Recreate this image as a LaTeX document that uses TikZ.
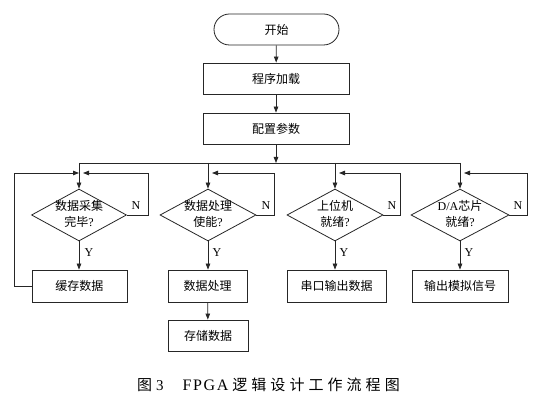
\documentclass[tikz,border=0pt]{standalone}
\usepackage{fontspec}
\setmainfont{Liberation Serif}
\newfontfamily\cjk{Noto Sans CJK SC}
\newfontfamily\capcjk[LetterSpace=27]{Noto Sans CJK SC}
\newfontfamily\caprm[LetterSpace=10]{Liberation Serif}
\usetikzlibrary{arrows.meta,shapes.geometric}
\newcommand\dtext[2]{\raisebox{-6.5pt}{\makebox[0pt]{\smash{\begin{tabular}[c]{@{}c@{}}#1\\#2\end{tabular}}}}}
\begin{document}
\begin{tikzpicture}[x=1pt,y=-1pt,
  ln/.style={draw=black!85,line width=0.8pt},
  arr/.style={ln,-{Triangle[length=6pt,width=4.5pt]}},
  box/.style={draw=black!85,line width=0.8pt,rectangle,minimum height=32pt,inner sep=0pt,
    font=\cjk\fontsize{12}{16}\selectfont},
  dia/.style={draw=black!85,line width=0.8pt,diamond,minimum width=96pt,minimum height=52pt,inner sep=0pt,
    font=\fontsize{12}{16}\selectfont},
  lab/.style={font=\fontsize{12}{14}\selectfont,inner sep=0pt}]
\useasboundingbox[fill=white] (0,0) rectangle (542,403);
% top column
\node[box,rounded corners=15.5pt,minimum width=125pt,minimum height=31pt] (s) at (276.5,29.5) {开始};
\node[box,minimum width=146pt,minimum height=31pt] (p1) at (276,78.5) {程序加载};
\node[box,minimum width=146pt,minimum height=31pt] (p2) at (276,128.5) {配置参数};
% diamonds
\node[dia,minimum width=95pt] (d1) at (79,215) {\dtext{\cjk 数据采集}{\cjk 完毕\rmfamily ?}};
\node[dia] (d2) at (208,215) {\dtext{\cjk 数据处理}{\cjk 使能\rmfamily ?}};
\node[dia] (d3) at (335,215) {\dtext{\cjk 上位机}{\cjk 就绪\rmfamily ?}};
\node[dia,minimum width=98pt] (d4) at (460,215) {\dtext{D/A{\cjk 芯片}}{\cjk 就绪\rmfamily ?}};
% boxes
\node[box,minimum width=95pt] (b1) at (79.5,286) {缓存数据};
\node[box,minimum width=79pt] (b2) at (207.5,286) {数据处理};
\node[box,minimum width=99pt] (b3) at (336.5,286) {串口输出数据};
\node[box,minimum width=96pt] (b4) at (460,286) {输出模拟信号};
\node[box,minimum width=80pt,minimum height=31pt] (b5) at (208,335.5) {存储数据};
% coordinates
\coordinate (busL) at (79,163);
\coordinate (busR) at (460,163);
\coordinate (n1) at (148,173);
\coordinate (n2) at (274,173);
\coordinate (n3) at (400,173);
\coordinate (n4) at (527,173);
\coordinate (l1) at (14,173);
% connectors
\draw[arr] (s) -- (p1);
\draw[arr] (p1) -- (p2);
\draw[arr] (p2.south) -- (p2.south |- busL);
\draw[ln] (busL) -- (busR);
\foreach \d in {d1,d2,d3,d4}{\draw[arr] (\d.north |- busL) -- (\d.north);}
\draw[arr] (d1.south) -- (d1.south |- b1.north);
\draw[arr] (d2.south) -- (d2.south |- b2.north);
\draw[arr] (d3.south) -- (d3.south |- b3.north);
\draw[arr] (d4.south) -- (d4.south |- b4.north);
\draw[arr] (b2) -- (b5);
\draw[arr,shorten >=4pt] (d1.east) -| (n1) -- (n1 -| d1.north);
\draw[arr,shorten >=4pt] (d2.east) -| (n2) -- (n2 -| d2.north);
\draw[arr,shorten >=4pt] (d3.east) -| (n3) -- (n3 -| d3.north);
\draw[arr,shorten >=4pt] (d4.east) -| (n4) -- (n4 -| d4.north);
\draw[arr] (b1.west) -| (l1) -- (l1 -| d1.north);
% labels
\node[lab] (N1) at (136,206) {N};
\node[lab] (N2) at (266,206) {N};
\node[lab] (N3) at (392,206) {N};
\node[lab] (N4) at (518,206) {N};
\node[lab] (Y1) at (89,253) {Y};
\node[lab] (Y2) at (217,253) {Y};
\node[lab] (Y3) at (344,253) {Y};
\node[lab] (Y4) at (469,253) {Y};
% caption
\node[anchor=west,inner sep=0pt,font=\fontsize{15}{18}\selectfont] (cap) at (137,385)
  {{\capcjk 图}\hspace{4pt}3\hspace{19pt}{\caprm\fontsize{16}{18}\selectfont FPGA}\hspace{4pt}{\capcjk 逻辑设计工作流程图}};
\end{tikzpicture}
\end{document}
